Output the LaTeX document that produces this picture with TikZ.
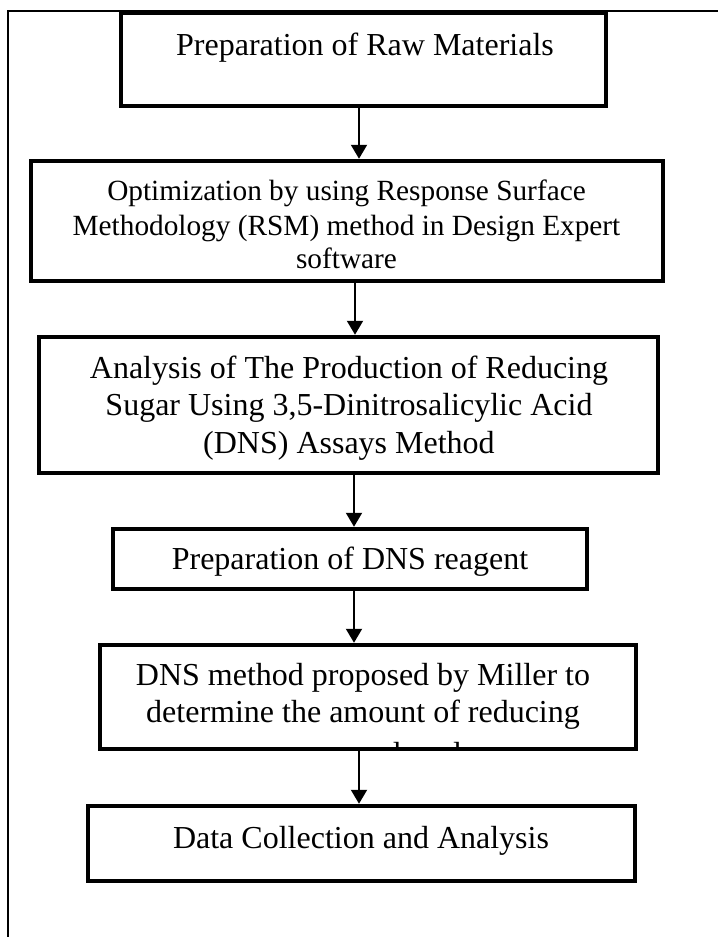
\documentclass[tikz,border=0pt]{standalone}
\usepackage{fontspec}
\setmainfont{Liberation Serif}
\usetikzlibrary{arrows.meta}
\begin{document}
\begin{tikzpicture}[x=1pt,y=-1pt,
  box/.style={draw=black, line width=4.5pt, rectangle, inner sep=0pt},
  arr/.style={draw=black, line width=2pt, -{Triangle[width=16pt,length=14pt]}},
  frameline/.style={draw=black, line width=1.5pt},
  tA/.style={font=\fontsize{32}{36.8}\selectfont, anchor=base, inner sep=0pt},
  tB/.style={font=\fontsize{29.3}{33.7}\selectfont, anchor=base, inner sep=0pt}]
\useasboundingbox (0,0) rectangle (718,937);
\fill[white] (0,0) rectangle (718,937);
% outer frame
\draw[frameline] (8,937) -- (8,11) -- (718,11);
% texts
\node[tA] (t1) at (365,55) {Preparation of Raw Materials};
\node[tB] (t2a) at (346.5,200) {Optimization by using Response Surface};
\node[tB] (t2b) at (346.5,235) {Methodology (RSM) method in Design Expert};
\node[tB] (t2c) at (346.5,268) {software};
\node[tA] (t3a) at (349,378) {Analysis of The Production of Reducing};
\node[tA] (t3b) at (349,415) {Sugar Using 3,5-Dinitrosalicylic Acid};
\node[tA] (t3c) at (349,453) {(DNS) Assays Method};
\node[tA] (t4) at (350,569) {Preparation of DNS reagent};
\node[tA] (t5a) at (363,685) {DNS method proposed by Miller to};
\node[tA] (t5b) at (363,722) {determine the amount of reducing};
\begin{scope}
  \clip (104.5,649.5) rectangle (631.5,746.5);
  \node[tA] (t5c) at (363,764) {sugar produced};
\end{scope}
\node[tA] (t6) at (361,848) {Data Collection and Analysis};
% boxes
\node[box, minimum width=485pt, minimum height=93pt]  (b1) at (363.5,59.5) {};
\node[box, minimum width=632pt, minimum height=120pt] (b2) at (347,221) {};
\node[box, minimum width=619pt, minimum height=136pt] (b3) at (348.5,405) {};
\node[box, minimum width=474pt, minimum height=60pt]  (b4) at (350,559) {};
\node[box, minimum width=536pt, minimum height=104pt] (b5) at (368,697) {};
\node[box, minimum width=547pt, minimum height=75pt]  (b6) at (361.5,843.5) {};
% arrows
\draw[arr] ([xshift=-4.5pt]b1.south) -- ([xshift=12pt]b2.north);
\draw[arr] ([xshift=8pt]b2.south) -- ([xshift=6.5pt]b3.north);
\draw[arr] ([xshift=5.5pt]b3.south) -- ([xshift=4pt]b4.north);
\draw[arr] ([xshift=4pt]b4.south) -- ([xshift=-14pt]b5.north);
\draw[arr] ([xshift=-9pt]b5.south) -- ([xshift=-2.5pt]b6.north);
\end{tikzpicture}
\end{document}
